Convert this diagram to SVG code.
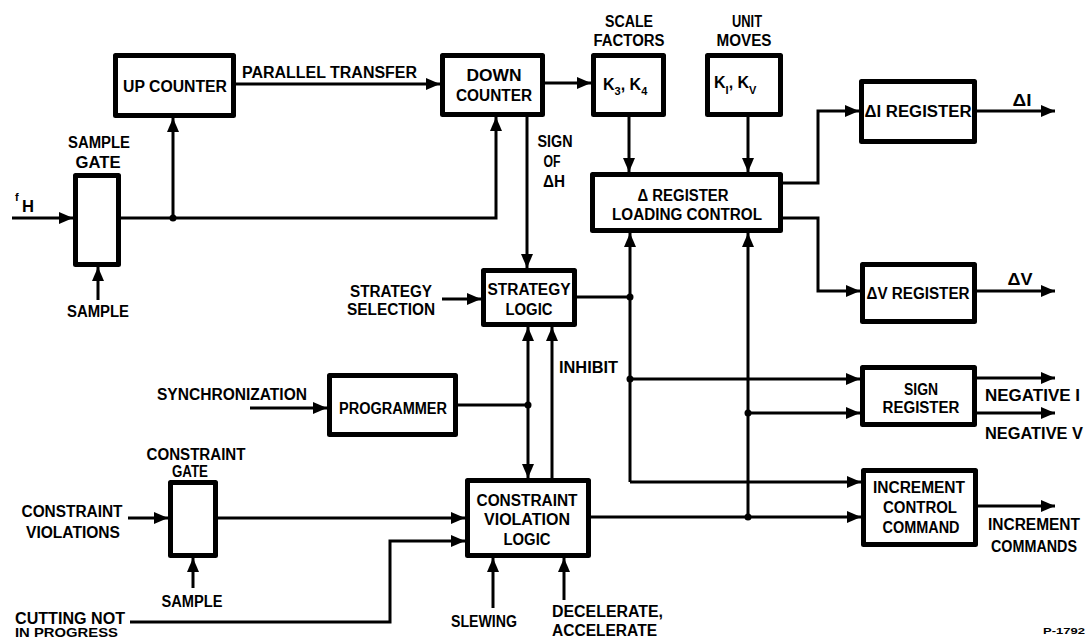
<svg xmlns="http://www.w3.org/2000/svg" width="1085" height="638" viewBox="0 0 1085 638">
<style>
.b{fill:#fff;stroke:#000;stroke-width:5;stroke-linejoin:round}
.c{fill:none;stroke:#000;stroke-width:3}
.a{marker-end:url(#ah)}
.t{font-family:"Liberation Sans",Arial,sans-serif;font-weight:bold;font-size:16px;fill:#000}
.m{text-anchor:middle}
.e{text-anchor:end}
.s{font-size:11px}
</style>
<defs>
<marker id="ah" viewBox="0 0 14 12" refX="14" refY="6" markerWidth="14" markerHeight="12" markerUnits="userSpaceOnUse" orient="auto-start-reverse"><path d="M0,0 L14,6 L0,12 z" fill="#000"/></marker>
</defs>
<rect width="1085" height="638" fill="#fff"/>
<g id="connectors">
<path class="c a" d="M236,84 H440"/>
<path class="c a" d="M12,218 H73"/>
<path class="c a" d="M121,218 H496 V117"/>
<path class="c a" d="M173,218 V118"/>
<circle cx="173" cy="218" r="3.5"/>
<path class="c a" d="M98,300 V267"/>
<path class="c a" d="M545,83 H591"/>
<path class="c a" d="M629,117 V172"/>
<path class="c a" d="M748,117 V172"/>
<path class="c a" d="M783,183 H818 V111 H859"/>
<path class="c a" d="M783,218 H818 V291 H860"/>
<path class="c a" d="M977,111 H1055"/>
<path class="c a" d="M977,291 H1055"/>
<path class="c a" d="M527,117 V268"/>
<path class="c a" d="M442,299 H481"/>
<path class="c" d="M577,297 H630"/>
<path class="c a" d="M630,482 V233"/>
<circle cx="630" cy="297" r="3.5"/>
<path class="c a" d="M630,379 H860"/>
<circle cx="630" cy="379" r="3.5"/>
<path class="c a" d="M630,482 H861"/>
<path class="c a" d="M591,517 H861"/>
<path class="c a" d="M748,517 V233"/>
<circle cx="748" cy="517" r="3.5"/>
<path class="c a" d="M748,413 H860"/>
<circle cx="748" cy="413" r="3.5"/>
<path class="c a" d="M977,378 H1055"/>
<path class="c a" d="M977,413 H1055"/>
<path class="c a" d="M978,506 H1055"/>
<path class="c a" d="M250,408 H327"/>
<path class="c" d="M458,405 H528"/>
<circle cx="528" cy="405" r="3.5"/>
<path class="c a" d="M528,327 V478" style="marker-start:url(#ah)"/>
<path class="c a" d="M552,478 V327"/>
<path class="c a" d="M128,518 H168"/>
<path class="c a" d="M218,518 H465"/>
<path class="c a" d="M193,588 V558"/>
<path class="c a" d="M130,622 H390 V541 H465"/>
<path class="c a" d="M493,608 V558"/>
<path class="c a" d="M564,600 V558"/>
</g>
<g id="up-counter"><rect class="b" x="115.5" y="55.5" width="118" height="60"/><text class="t m" x="175" y="92" textLength="104" lengthAdjust="spacingAndGlyphs">UP COUNTER</text></g>
<g id="parallel-transfer-label"><text class="t" x="242" y="78" textLength="175" lengthAdjust="spacingAndGlyphs">PARALLEL TRANSFER</text></g>
<g id="down-counter"><rect class="b" x="442.5" y="55.5" width="100" height="59"/><text class="t m" x="494" y="81" textLength="55" lengthAdjust="spacingAndGlyphs">DOWN</text><text class="t m" x="494" y="101" textLength="76" lengthAdjust="spacingAndGlyphs">COUNTER</text></g>
<g id="scale-factors"><rect class="b" x="593.5" y="55.5" width="70" height="59"/><text class="t m" x="629" y="27" textLength="48" lengthAdjust="spacingAndGlyphs">SCALE</text><text class="t m" x="629" y="46" textLength="71" lengthAdjust="spacingAndGlyphs">FACTORS</text><text class="t" x="603" y="90">K<tspan class="s" dy="5">3</tspan><tspan dy="-5">, K</tspan><tspan class="s" dy="5">4</tspan></text></g>
<g id="unit-moves"><rect class="b" x="707.5" y="55.5" width="73" height="59"/><text class="t m" x="747" y="27" textLength="30" lengthAdjust="spacingAndGlyphs">UNIT</text><text class="t m" x="744" y="46" textLength="55" lengthAdjust="spacingAndGlyphs">MOVES</text><text class="t" x="714" y="88">K<tspan class="s" dy="6">I</tspan><tspan dy="-6">, K</tspan><tspan class="s" dy="6">V</tspan></text></g>
<g id="loading-control"><rect class="b" x="592.5" y="174.5" width="188" height="56"/><text class="t m" x="683" y="201" textLength="91" lengthAdjust="spacingAndGlyphs">Δ REGISTER</text><text class="t m" x="687" y="220" textLength="150" lengthAdjust="spacingAndGlyphs">LOADING CONTROL</text></g>
<g id="di-register"><rect class="b" x="861.5" y="81.5" width="113" height="60"/><text class="t m" x="918" y="117" textLength="107" lengthAdjust="spacingAndGlyphs">ΔI REGISTER</text><text class="t m" x="1022" y="106" textLength="19" lengthAdjust="spacingAndGlyphs">ΔI</text></g>
<g id="dv-register"><rect class="b" x="862.5" y="264.5" width="112" height="57"/><text class="t m" x="918" y="299" textLength="103" lengthAdjust="spacingAndGlyphs">ΔV REGISTER</text><text class="t m" x="1020" y="285" textLength="25" lengthAdjust="spacingAndGlyphs">ΔV</text></g>
<g id="sign-register"><rect class="b" x="862.5" y="367.5" width="112" height="57"/><text class="t m" x="921" y="395" textLength="34" lengthAdjust="spacingAndGlyphs">SIGN</text><text class="t m" x="921" y="413" textLength="77" lengthAdjust="spacingAndGlyphs">REGISTER</text><text class="t" x="985" y="401" textLength="95" lengthAdjust="spacingAndGlyphs">NEGATIVE I</text><text class="t" x="985" y="439" textLength="98" lengthAdjust="spacingAndGlyphs">NEGATIVE V</text></g>
<g id="increment-control"><rect class="b" x="863.5" y="470.5" width="112" height="74"/><text class="t m" x="919" y="493" textLength="92" lengthAdjust="spacingAndGlyphs">INCREMENT</text><text class="t m" x="920" y="513" textLength="74" lengthAdjust="spacingAndGlyphs">CONTROL</text><text class="t m" x="921" y="533" textLength="77" lengthAdjust="spacingAndGlyphs">COMMAND</text><text class="t" x="988" y="530" textLength="92" lengthAdjust="spacingAndGlyphs">INCREMENT</text><text class="t" x="991" y="552" textLength="86" lengthAdjust="spacingAndGlyphs">COMMANDS</text></g>
<g id="sample-gate"><rect class="b" x="75.5" y="175.5" width="43" height="89"/><text class="t m" x="99" y="148" textLength="62" lengthAdjust="spacingAndGlyphs">SAMPLE</text><text class="t m" x="98" y="168" textLength="45" lengthAdjust="spacingAndGlyphs">GATE</text><text class="t m" x="98" y="317" textLength="62" lengthAdjust="spacingAndGlyphs">SAMPLE</text><text class="t" x="15" y="201" style="font-size:11px">f</text><text class="t" x="22" y="212" textLength="12" lengthAdjust="spacingAndGlyphs">H</text></g>
<g id="sign-of-dh-label"><text class="t m" x="555" y="147" textLength="35" lengthAdjust="spacingAndGlyphs">SIGN</text><text class="t m" x="552" y="167" textLength="17" lengthAdjust="spacingAndGlyphs">OF</text><text class="t m" x="554" y="187" textLength="22" lengthAdjust="spacingAndGlyphs">ΔH</text></g>
<g id="strategy-logic"><rect class="b" x="483.5" y="270.5" width="91" height="54"/><text class="t m" x="529" y="295" textLength="83" lengthAdjust="spacingAndGlyphs">STRATEGY</text><text class="t m" x="529" y="315" textLength="47" lengthAdjust="spacingAndGlyphs">LOGIC</text><text class="t e" x="432" y="297" textLength="82" lengthAdjust="spacingAndGlyphs">STRATEGY</text><text class="t e" x="435" y="315" textLength="88" lengthAdjust="spacingAndGlyphs">SELECTION</text></g>
<g id="inhibit-label"><text class="t" x="559" y="373" textLength="59" lengthAdjust="spacingAndGlyphs">INHIBIT</text></g>
<g id="programmer"><rect class="b" x="329.5" y="375.5" width="126" height="59"/><text class="t m" x="393" y="414" textLength="108" lengthAdjust="spacingAndGlyphs">PROGRAMMER</text><text class="t" x="157" y="400" textLength="150" lengthAdjust="spacingAndGlyphs">SYNCHRONIZATION</text></g>
<g id="constraint-gate"><rect class="b" x="170.5" y="482.5" width="45" height="73"/><text class="t m" x="196" y="460" textLength="99" lengthAdjust="spacingAndGlyphs">CONSTRAINT</text><text class="t m" x="190" y="477" textLength="36" lengthAdjust="spacingAndGlyphs">GATE</text><text class="t m" x="72" y="517" textLength="101" lengthAdjust="spacingAndGlyphs">CONSTRAINT</text><text class="t m" x="73" y="538" textLength="94" lengthAdjust="spacingAndGlyphs">VIOLATIONS</text><text class="t m" x="192" y="607" textLength="61" lengthAdjust="spacingAndGlyphs">SAMPLE</text><text class="t" x="15" y="624" textLength="110" lengthAdjust="spacingAndGlyphs">CUTTING NOT</text><text class="t" x="15" y="637" style="font-size:12px" textLength="103" lengthAdjust="spacingAndGlyphs">IN PROGRESS</text></g>
<g id="constraint-violation-logic"><rect class="b" x="467.5" y="480.5" width="121" height="75"/><text class="t m" x="527" y="506" textLength="101" lengthAdjust="spacingAndGlyphs">CONSTRAINT</text><text class="t m" x="527" y="525" textLength="86" lengthAdjust="spacingAndGlyphs">VIOLATION</text><text class="t m" x="527" y="545" textLength="47" lengthAdjust="spacingAndGlyphs">LOGIC</text><text class="t m" x="484" y="627" textLength="66" lengthAdjust="spacingAndGlyphs">SLEWING</text><text class="t" x="552" y="617" textLength="111" lengthAdjust="spacingAndGlyphs">DECELERATE,</text><text class="t" x="552" y="636" textLength="105" lengthAdjust="spacingAndGlyphs">ACCELERATE</text></g>
<g id="figure-number"><text class="t" x="1043" y="634" style="font-size:9px" textLength="42" lengthAdjust="spacingAndGlyphs">P-1792</text></g>
</svg>
